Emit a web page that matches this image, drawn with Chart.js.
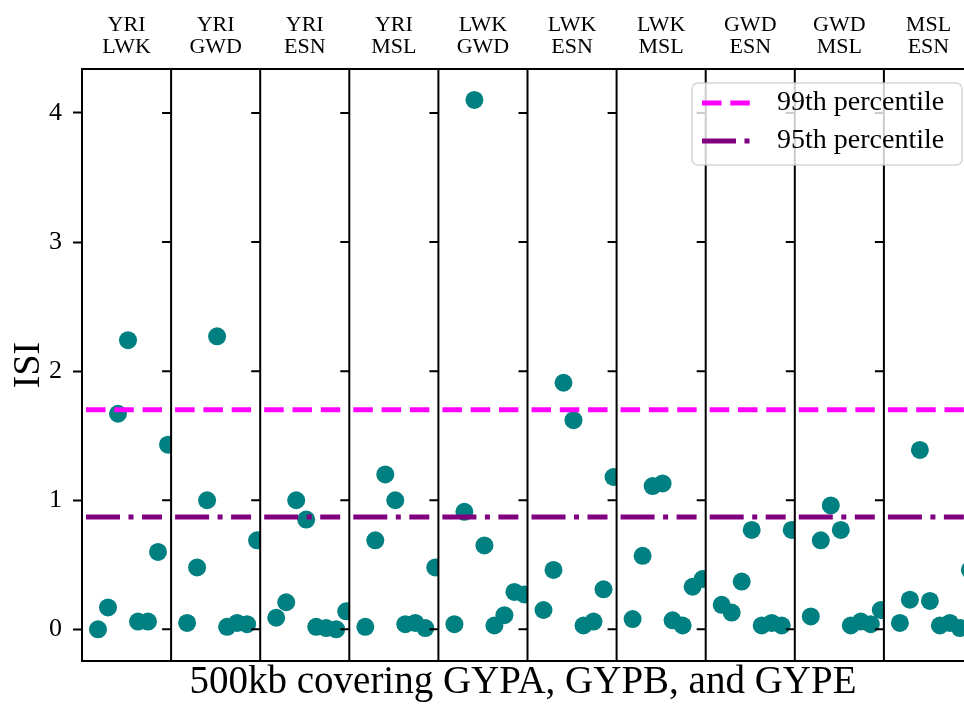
<!DOCTYPE html>
<html>
<head>
<meta charset="utf-8">
<script src="https://cdn.jsdelivr.net/npm/chart.js@4.4.1/dist/chart.umd.min.js"></script>
<style>
  body { margin: 0; background: #fff; }
  #wrap { width: 964px; height: 706px; }
</style>
</head>
<body>
<div id="wrap"><canvas id="isiChart"></canvas></div>
<script>
// population pairs, one panel each
const pairTop    = ['YRI', 'YRI', 'YRI', 'YRI', 'LWK', 'LWK', 'LWK', 'GWD', 'GWD', 'MSL'];
const pairBottom = ['LWK', 'GWD', 'ESN', 'MSL', 'GWD', 'ESN', 'MSL', 'ESN', 'MSL', 'ESN'];

// ISI per window (8 windows per panel)
const isiYriLwk = [0.00, 0.17, 1.67, 2.24, 0.06, 0.06, 0.60, 1.43];
const isiYriGwd = [0.05, 0.48, 1.00, 2.27, 0.02, 0.05, 0.04, 0.69];
const isiYriEsn = [0.09, 0.21, 1.00, 0.85, 0.02, 0.01, 0.00, 0.14];
const isiYriMsl = [0.02, 0.69, 1.20, 1.00, 0.04, 0.05, 0.01, 0.48];
const isiLwkGwd = [0.04, 0.91, 4.10, 0.65, 0.03, 0.11, 0.29, 0.27];
const isiLwkEsn = [0.15, 0.46, 1.91, 1.62, 0.03, 0.06, 0.31, 1.18];
const isiLwkMsl = [0.08, 0.57, 1.11, 1.13, 0.07, 0.03, 0.33, 0.39];
const isiGwdEsn = [0.19, 0.13, 0.37, 0.77, 0.03, 0.05, 0.03, 0.77];
const isiGwdMsl = [0.10, 0.69, 0.96, 0.77, 0.03, 0.06, 0.04, 0.15];
const isiMslEsn = [0.05, 0.23, 1.39, 0.22, 0.03, 0.05, 0.01, 0.46];
const panelValues = [isiYriLwk, isiYriGwd, isiYriEsn, isiYriMsl, isiLwkGwd,
                     isiLwkEsn, isiLwkMsl, isiGwdEsn, isiGwdMsl, isiMslEsn];

const p99 = 1.70;
const p95 = 0.87;
const yTicks = [0, 1, 2, 3, 4];

// x layout (in window units)
const PANEL_SPAN = 8.91;
const FIRST_X = 1.6;
const X_MAX = 88.2;   // figure is cropped on the right
const LINE_START = 0.4, LINE_END = 8.0;

const FONT = "'Liberation Serif', 'DejaVu Serif', serif";

const datasets = [];
panelValues.forEach((vals, k) => {
    const x0 = k * PANEL_SPAN;
    datasets.push({
        type: 'line',
        label: '99th percentile',
        data: [{x: x0 + LINE_START, y: p99}, {x: x0 + LINE_END, y: p99}],
        borderColor: '#ff00ff',
        borderWidth: 5,
        borderDash: [19.5, 8.8],
        borderCapStyle: 'butt',
        pointRadius: 0,
        fill: false,
        order: 0
    });
    datasets.push({
        type: 'line',
        label: '95th percentile',
        data: [{x: x0 + LINE_START, y: p95}, {x: x0 + LINE_END, y: p95}],
        borderColor: '#800080',
        borderWidth: 5,
        borderDash: [34, 8.5, 5, 8.5],
        borderCapStyle: 'butt',
        pointRadius: 0,
        fill: false,
        order: 0
    });
    datasets.push({
        type: 'scatter',
        label: pairTop[k] + ' ' + pairBottom[k],
        panel: k,
        data: vals.map((v, j) => ({x: x0 + FIRST_X + j, y: v})),
        backgroundColor: '#008080',
        borderWidth: 0,
        pointRadius: 9,
        pointHoverRadius: 9,
        order: 1
    });
});

// clip points to their own panel, draw panel frames, titles and legend
const panelPlugin = {
    id: 'panels',
    afterLayout(chart) {
        // let the plot run to the canvas edge (reference is cropped there)
        chart.chartArea.right = chart.width;
        chart.scales.x.right = chart.width;
        chart.scales.x.width = chart.width - chart.scales.x.left;
        chart.scales.x.configure();
    },
    beforeDatasetDraw(chart, args) {
        const ds = chart.data.datasets[args.index];
        if (ds.panel === undefined) return;
        const xs = chart.scales.x, area = chart.chartArea;
        const l = xs.getPixelForValue(ds.panel * PANEL_SPAN);
        const r = xs.getPixelForValue((ds.panel + 1) * PANEL_SPAN);
        chart.ctx.save();
        chart.ctx.beginPath();
        chart.ctx.rect(l, area.top, r - l, area.bottom - area.top);
        chart.ctx.clip();
    },
    afterDatasetDraw(chart, args) {
        const ds = chart.data.datasets[args.index];
        if (ds.panel === undefined) return;
        chart.ctx.restore();
    },
    afterDraw(chart) {
        const ctx = chart.ctx, xs = chart.scales.x, ys = chart.scales.y;
        const area = chart.chartArea;
        ctx.save();
        ctx.strokeStyle = '#000';
        ctx.lineWidth = 2;
        // top spine
        ctx.beginPath();
        ctx.moveTo(area.left - 1, area.top);
        ctx.lineTo(area.right, area.top);
        ctx.stroke();
        for (let k = 1; k < panelValues.length; k++) {
            const px = xs.getPixelForValue(k * PANEL_SPAN);
            ctx.beginPath();
            ctx.moveTo(px, area.top);
            ctx.lineTo(px, area.bottom);
            yTicks.forEach(t => {
                const py = ys.getPixelForValue(t);
                ctx.moveTo(px - 9, py);
                ctx.lineTo(px, py);
            });
            ctx.stroke();
        }
        // panel titles
        ctx.fillStyle = '#000';
        ctx.font = '22px ' + FONT;
        ctx.textAlign = 'center';
        ctx.textBaseline = 'middle';
        for (let k = 0; k < panelValues.length; k++) {
            const cx = (xs.getPixelForValue(k * PANEL_SPAN) + xs.getPixelForValue((k + 1) * PANEL_SPAN)) / 2;
            ctx.fillText(pairTop[k], cx, 25);
            ctx.fillText(pairBottom[k], cx, 47);
        }
        // legend
        const bx = area.right - 272, by = area.top + 14, bw = 270, bh = 82;
        ctx.beginPath();
        ctx.roundRect(bx, by, bw, bh, 6);
        ctx.fillStyle = 'rgba(255,255,255,0.8)';
        ctx.fill();
        ctx.strokeStyle = 'rgba(204,204,204,0.8)';
        ctx.lineWidth = 1.5;
        ctx.stroke();
        const items = [
            {text: datasets[0].label, color: datasets[0].borderColor, dash: datasets[0].borderDash, y: by + 20},
            {text: datasets[1].label, color: datasets[1].borderColor, dash: datasets[1].borderDash, y: by + 58}
        ];
        ctx.font = '28px ' + FONT;
        ctx.textAlign = 'left';
        items.forEach(it => {
            ctx.beginPath();
            ctx.setLineDash(it.dash);
            ctx.strokeStyle = it.color;
            ctx.lineWidth = 5;
            ctx.lineCap = 'butt';
            ctx.moveTo(bx + 10, it.y);
            ctx.lineTo(bx + 58, it.y);
            ctx.stroke();
            ctx.setLineDash([]);
            ctx.fillStyle = '#000';
            ctx.fillText(it.text, bx + 85, it.y);
        });
        ctx.restore();
    }
};

new Chart(document.getElementById('isiChart'), {
    type: 'scatter',
    data: { datasets: datasets },
    options: {
        responsive: true,
        maintainAspectRatio: false,
        animation: false,
        layout: { padding: { top: 69, right: 0, bottom: 0, left: 0 } },
        plugins: {
            legend: { display: false },
            tooltip: { enabled: false }
        },
        scales: {
            x: {
                type: 'linear',
                min: 0,
                max: X_MAX,
                ticks: { display: false },
                grid: { display: false },
                border: { display: true, color: '#000', width: 2 },
                title: {
                    display: true,
                    text: '500kb covering GYPA, GYPB, and GYPE',
                    color: '#000',
                    font: { family: FONT, size: 39 },
                    padding: { top: 0, bottom: 0 }
                },
                afterFit(scale) { scale.height = 45; }
            },
            y: {
                min: -0.245,
                max: 4.34,
                afterBuildTicks(scale) { scale.ticks = yTicks.map(v => ({value: v})); },
                ticks: {
                    color: '#000',
                    font: { family: FONT, size: 26 },
                    padding: 11,
                    callback: v => String(v)
                },
                grid: {
                    display: true,
                    drawOnChartArea: false,
                    drawTicks: true,
                    tickLength: 9,
                    tickWidth: 2,
                    tickColor: '#000'
                },
                border: { display: true, color: '#000', width: 2 },
                title: {
                    display: true,
                    text: 'ISI',
                    color: '#000',
                    font: { family: FONT, size: 38 },
                    padding: { top: 6, bottom: 0 }
                },
                afterFit(scale) { scale.width = 82; }
            }
        }
    },
    plugins: [panelPlugin]
});
</script>
</body>
</html>
